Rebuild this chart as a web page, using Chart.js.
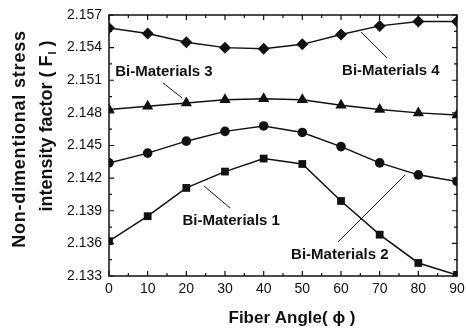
<!DOCTYPE html>
<html>
<head>
<meta charset="utf-8">
<script src="https://cdn.jsdelivr.net/npm/chart.js@4.4.1/dist/chart.umd.min.js"></script>
<style>
  html, body { margin: 0; padding: 0; background: #fff; }
  #wrap { width: 466px; height: 336px; }
</style>
</head>
<body>
<div id="wrap"><canvas id="chart" width="466" height="336"></canvas></div>
<script>
// fiber angle (deg)
const angles = [0, 10, 20, 30, 40, 50, 60, 70, 80, 90];

// non-dimensional SIF
const biMat1 = [2.1362, 2.1385, 2.1411, 2.1426, 2.1438, 2.1433, 2.1399, 2.1368, 2.1342, 2.1331];
const biMat2 = [2.1434, 2.1443, 2.1454, 2.1463, 2.1468, 2.1462, 2.1449, 2.1434, 2.1423, 2.1417];
const biMat3 = [2.1483, 2.1486, 2.1489, 2.1492, 2.1493, 2.1492, 2.1487, 2.1483, 2.1480, 2.1478];
const biMat4 = [2.1558, 2.1553, 2.1545, 2.1540, 2.1539, 2.1543, 2.1552, 2.1560, 2.1564, 2.1564];

const xTicks = [0, 10, 20, 30, 40, 50, 60, 70, 80, 90];
const yTicks = [2.133, 2.136, 2.139, 2.142, 2.145, 2.148, 2.151, 2.154, 2.157];

// callout labels: text, label centre, arrow start -> end (data units)
const callouts = [
  { text: 'Bi-Materials 3', at: [14.2, 2.15176], from: [14.0, 2.15075], to: [18.9, 2.14937] },
  { text: 'Bi-Materials 4', at: [72.9, 2.15185], from: [71.9, 2.15305], to: [65.2, 2.15544] },
  { text: 'Bi-Materials 1', at: [31.6, 2.13806], from: [31.3, 2.13925], to: [24.6, 2.14127] },
  { text: 'Bi-Materials 2', at: [59.7, 2.13493], from: [59.2, 2.13613], to: [76.6, 2.14229] }
];

const FONT = '"Liberation Sans", Arial, Helvetica, sans-serif';
const INK = '#111';

function series(vals, style, r) {
  return {
    data: angles.map((a, i) => ({ x: a, y: vals[i] })),
    borderColor: INK,
    backgroundColor: INK,
    borderWidth: 1.5,
    pointStyle: style,
    pointRadius: r,
    pointHoverRadius: r,
    pointBorderWidth: 0,
    tension: 0
  };
}

// frame, inward ticks, labels, titles and callouts
const decor = {
  id: 'decor',
  afterDraw(chart) {
    const { ctx, chartArea: a, scales: { x, y } } = chart;
    ctx.save();
    ctx.strokeStyle = INK;
    ctx.fillStyle = INK;

    ctx.lineWidth = 1.5;
    ctx.strokeRect(a.left, a.top, a.right - a.left, a.bottom - a.top);

    ctx.lineWidth = 1.2;
    ctx.beginPath();
    for (let v = 0; v <= 90; v += 5) {
      const px = x.getPixelForValue(v);
      const len = v % 10 === 0 ? 5 : 3;
      ctx.moveTo(px, a.bottom); ctx.lineTo(px, a.bottom - len);
      ctx.moveTo(px, a.top); ctx.lineTo(px, a.top + len);
    }
    for (let k = 0; k <= 16; k++) {
      const v = 2.133 + k * 0.0015;
      const py = y.getPixelForValue(v);
      const len = k % 2 === 0 ? 5 : 3;
      ctx.moveTo(a.left, py); ctx.lineTo(a.left + len, py);
      ctx.moveTo(a.right, py); ctx.lineTo(a.right - len, py);
    }
    ctx.stroke();

    // tick labels
    ctx.font = '14px ' + FONT;
    ctx.textAlign = 'center';
    ctx.textBaseline = 'middle';
    xTicks.forEach(v => ctx.fillText(String(v), x.getPixelForValue(v), a.bottom + 13));
    ctx.textAlign = 'right';
    yTicks.forEach(v => ctx.fillText(v.toFixed(3), a.left - 7, y.getPixelForValue(v)));

    // x title
    ctx.font = 'bold 17px ' + FONT;
    ctx.textAlign = 'center';
    ctx.fillText('Fiber Angle( \u03d5 )', (a.left + a.right) / 2 + 9, a.bottom + 42);

    // y title, two rotated lines
    ctx.save();
    ctx.translate(20, 139);
    ctx.rotate(-Math.PI / 2);
    ctx.font = 'bold 18px ' + FONT;
    ctx.letterSpacing = '0.8px';
    ctx.fillText('Non-dimentional stress', 0, 0);
    ctx.restore();

    ctx.save();
    ctx.translate(47, 126);
    ctx.rotate(-Math.PI / 2);
    const p1 = 'intensity factor ( F';
    const p3 = ' )';
    ctx.font = 'bold 18px ' + FONT;
    const w1 = ctx.measureText(p1).width;
    const w3 = ctx.measureText(p3).width;
    ctx.font = 'bold 11px ' + FONT;
    const w2 = ctx.measureText('I').width + 1;
    const sx = -(w1 + w2 + w3) / 2;
    ctx.textAlign = 'left';
    ctx.font = 'bold 18px ' + FONT;
    ctx.fillText(p1, sx, 0);
    ctx.font = 'bold 11px ' + FONT;
    ctx.fillText('I', sx + w1 + 1, 6);
    ctx.font = 'bold 18px ' + FONT;
    ctx.fillText(p3, sx + w1 + w2, 0);
    ctx.restore();

    // callouts
    ctx.lineWidth = 1;
    ctx.font = 'bold 15px ' + FONT;
    ctx.textAlign = 'center';
    callouts.forEach(c => {
      ctx.fillText(c.text, x.getPixelForValue(c.at[0]), y.getPixelForValue(c.at[1]));
      ctx.beginPath();
      ctx.moveTo(x.getPixelForValue(c.from[0]), y.getPixelForValue(c.from[1]));
      ctx.lineTo(x.getPixelForValue(c.to[0]), y.getPixelForValue(c.to[1]));
      ctx.stroke();
    });
    ctx.restore();
  }
};

new Chart(document.getElementById('chart'), {
  type: 'line',
  data: {
    datasets: [
      series(biMat1, 'rect', 5.5),
      series(biMat2, 'circle', 4.8),
      series(biMat3, 'triangle', 6.5),
      series(biMat4, 'rectRot', 6)
    ]
  },
  options: {
    responsive: false,
    animation: false,
    layout: { padding: { left: 109, right: 9, top: 15, bottom: 60 } },
    plugins: { legend: { display: false }, tooltip: { enabled: false } },
    scales: {
      x: { type: 'linear', min: 0, max: 90, display: false },
      y: { type: 'linear', min: 2.133, max: 2.157, display: false }
    }
  },
  plugins: [decor]
});
</script>
</body>
</html>
